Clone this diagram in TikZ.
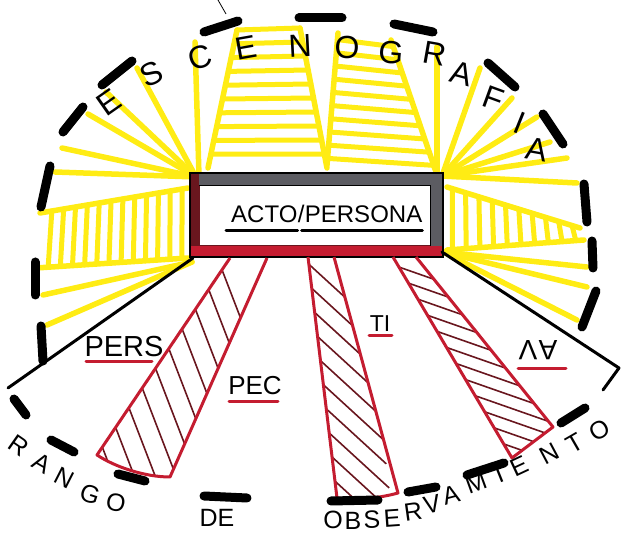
\documentclass[tikz,border=0pt]{standalone}
\usepackage{fontspec}
\setmainfont{Liberation Sans}
\usetikzlibrary{calc}
\definecolor{ylw}{RGB}{255,236,20}
\definecolor{bred}{RGB}{196,28,48}
\definecolor{dred}{RGB}{105,22,30}
\definecolor{gry}{RGB}{92,92,98}
\begin{document}
\begin{tikzpicture}[x=1pt,y=-1pt,
  ray/.style={ylw,line width=5.5pt,line cap=round},
  rung/.style={ylw,line width=5pt,line cap=round},
  dsh/.style={black,line width=9pt,line cap=round},
  blk/.style={black,line width=3pt,line cap=round},
  beam/.style={bred,line width=3pt,line join=round},
  hatch/.style={dred,line width=1.6pt},
  uline/.style={bred,line width=3pt,line cap=round},
  arcl/.style={font=\fontsize{32}{32}\selectfont,inner sep=0pt},
  botl/.style={font=\fontsize{25}{25}\selectfont,inner sep=0pt},
  lbl/.style={inner sep=0pt},
  boxtxt/.style={font=\fontsize{24}{24}\selectfont,inner sep=0pt}]
\useasboundingbox (0,0) rectangle (622,534);

% ---------- yellow light ----------
\coordinate (tl) at (196,177);
\foreach \p in {(137,68),(106,92),(88,114),(62,148),(55,172)}
  \draw[ray] (tl) -- \p;
\draw[ray] (195,42) -- (199,176);
% left ladder
\coordinate (lt0) at (188,188); \coordinate (lt1) at (40,213);
\coordinate (lb0) at (188,258); \coordinate (lb1) at (36,268);
\draw[ray] (lt0) -- (lt1); \draw[ray] (lb0) -- (lb1);
\foreach \t in {0.04,0.12,...,1.0}
  \draw[rung] ($(lt0)!\t!(lt1)$) -- ($(lb0)!\t!(lb1)$);
\coordinate (bl) at (192,262);
\draw[ray] (bl) -- (43,295);
\draw[ray] (bl) -- (47,325);
% top trapezoid 1
\coordinate (a0) at (237,30); \coordinate (a1) at (208,168);
\coordinate (b0) at (300,28); \coordinate (b1) at (327,168);
\draw[ray] (a0) -- (a1); \draw[ray] (b0) -- (b1);
\foreach \t in {0,0.1,...,1.0}
  \draw[rung] ($(a0)!\t!(a1)$) -- ($(b0)!\t!(b1)$);
% top trapezoid 2
\coordinate (c0) at (338,33); \coordinate (c1) at (327,165);
\coordinate (d0) at (391,40); \coordinate (d1) at (436,172);
\draw[ray] (c0) -- (c1); \draw[ray] (d0) -- (d1);
\foreach \t in {0.05,0.15,...,1.0}
  \draw[rung] ($(c0)!\t!(c1)$) -- ($(d0)!\t!(d1)$);
\draw[ray] (437,47) -- (437,172);
% right rays
\coordinate (tr) at (442,176);
\foreach \p in {(480,68),(512,98),(537,117),(550,142),(567,158),(577,183)}
  \draw[ray] (tr) -- \p;
% right ladder
\coordinate (rt0) at (447,187); \coordinate (rt1) at (580,228);
\coordinate (rb0) at (447,250); \coordinate (rb1) at (584,240);
\draw[ray] (rt0) -- (rt1); \draw[ray] (rb0) -- (rb1);
\foreach \t in {0.04,0.14,...,1.0}
  \draw[rung] ($(rt0)!\t!(rt1)$) -- ($(rb0)!\t!(rb1)$);
\coordinate (br) at (443,252);
\foreach \p in {(587,267),(587,287),(577,320)}
  \draw[ray] (br) -- \p;

% ---------- stage box ----------
\fill[white] (190,173) rectangle (443,257);
\fill[gry] (190,173) rectangle (443,186);
\fill[gry] (430,173) rectangle (443,257);
\fill[dred] (190,173) rectangle (199,257);
\fill[bred] (190,246) rectangle (443,257);
\draw[black,line width=1.6pt] (190,173) rectangle (443,257);
\draw[black,line width=1pt] (199,186) -- (430,186) -- (430,246);
\draw[dred,line width=1pt] (199,186) -- (199,246) -- (430,246);
\node[boxtxt,anchor=base west] (acto) at (231,223) {ACTO};
\node[boxtxt,anchor=base west] (slash) at (acto.base east) {/};
\node[boxtxt,anchor=base west] (persona) at (slash.base east) {PERSONA};
\draw[blk] ($(acto.base west)+(-5,8)$) -- ($(acto.base east)+(0,8)$);
\draw[blk] ($(persona.base west)+(-3,8)$) -- ($(persona.base east)+(0,8)$);

% ---------- black side lines ----------
\draw[blk] (193,258) -- (8,388);
\draw[blk,line join=round] (442,252) -- (619,368) -- (603,390);
\draw[black,line width=0.8pt] (218,0) -- (226,14);

% ---------- red beams ----------
% left beam (PEC)
\coordinate (p0) at (230,258); \coordinate (p1) at (97,455);
\coordinate (q0) at (267,258); \coordinate (q1) at (170,477);
\begin{scope}
\clip (p0) -- (p1) .. controls (115,467) and (145,477) .. (q1) -- (q0) -- cycle;
\foreach \t in {0.06,0.16,...,1.0}
  \draw[hatch] ($(p0)!\t!(p1)+(-40,-104)$) -- ++(80,208);
\end{scope}
\draw[beam] (p0) -- (p1) .. controls (115,467) and (145,477) .. (q1) -- (q0);
% middle beam (TI)
\coordinate (m0) at (308,257); \coordinate (m1) at (337,498);
\coordinate (n0) at (334,257); \coordinate (n1) at (398,493);
\begin{scope}
\clip (m0) -- (m1) .. controls (360,500) and (380,498) .. (n1) -- (n0) -- cycle;
\foreach \t in {0.03,0.13,...,1.0}
  \draw[hatch] ($(m0)!\t!(m1)+(-60,-55)$) -- ++(120,110);
\end{scope}
\draw[beam] (m0) -- (m1) .. controls (360,500) and (380,498) .. (n1) -- (n0);
% right beam (AV)
\coordinate (r0) at (393,257); \coordinate (r1) at (512,458);
\coordinate (s0) at (416,257); \coordinate (s1) at (553,427);
\begin{scope}
\clip (r0) -- (r1) -- (s1) -- (s0) -- cycle;
\foreach \t in {0.05,0.13,...,1.0}
  \draw[hatch] ($(r0)!\t!(r1)+(-60,-21)$) -- ++(160,56);
\end{scope}
\draw[beam] (r0) -- (r1) -- (s1) -- (s0);

% ---------- dashed outer circle ----------
\foreach \a/\b in {
  {(50,166)}/{(41,207)}, {(35,262)}/{(35,295)}, {(41,326)}/{(43,361)},
  {(14,399)}/{(26,415)}, {(51,440)}/{(74,452)}, {(118,474)}/{(145,481)},
  {(204,496)}/{(247,498)}, {(331,501)}/{(378,500)}, {(408,492)}/{(436,487)},
  {(467,475)}/{(504,463)}, {(561,423)}/{(585,408)},
  {(596,291)}/{(582,327)}, {(592,241)}/{(593,268)}, {(584,184)}/{(587,222)},
  {(543,114)}/{(563,144)}, {(488,63)}/{(515,87)}, {(394,24)}/{(433,32)},
  {(299,18)}/{(342,18)}, {(204,32)}/{(238,21)}, {(102,85)}/{(132,61)},
  {(63,132)}/{(83,107)}}
  \draw[dsh] \a -- \b;

% ---------- ESCENOGRAFIA ----------
\foreach \ch/\x/\y/\r [count=\k] in {E/109/102/35, S/152/74/25, C/200/57/18,
  E/246/48/10, N/300/46/3, O/347/47/0, G/391/53/-5, R/435/54/-10,
  A/462/74/-15, F/493/99/-20, I/520/123/-22, A/537/150/-10}
  \node[arcl,rotate=\r] (esc\k) at (\x,\y) {\ch};

% ---------- beam labels ----------
\node[lbl,font=\fontsize{29}{29}\selectfont] (pers) at (124,347) {PERS};
\draw[uline] (86,362) -- (152,362);
\node[lbl,font=\fontsize{26}{26}\selectfont] (pec) at (255,386) {PEC};
\draw[uline] (229,402) -- (278,402);
\node[lbl,font=\fontsize{23}{23}\selectfont] (ti) at (380,324) {TI};
\draw[uline] (369,336) -- (392,336);
\node[lbl,font=\fontsize{28}{28}\selectfont,rotate=180] (av) at (538,350) {A\kern1.5pt V};
\draw[uline] (518,369) -- (566,369);

% ---------- RANGO DE OBSERVAMIENTO ----------
\foreach \ch/\x/\y/\r [count=\k] in {R/19/446/-35, A/42/463/-30, N/64/478/-27,
  G/90/494/-18, O/116/503/-10}
  \node[botl,rotate=\r] (rng\k) at (\x,\y) {\ch};
\node[botl] (de) at (217,518) {DE};
\foreach \ch/\x/\y/\r [count=\k] in {O/333/520/0, B/353/521/0, S/372/520/2,
  E/392/518/4, R/413/512/8, V/432/504/12, A/451/495/15, M/476/483/20,
  I/499/474/22, E/519/466/25, N/549/454/28, T/575/443/30, O/600/430/30}
  \node[botl,rotate=\r] (obs\k) at (\x,\y) {\ch};
\end{tikzpicture}
\end{document}
